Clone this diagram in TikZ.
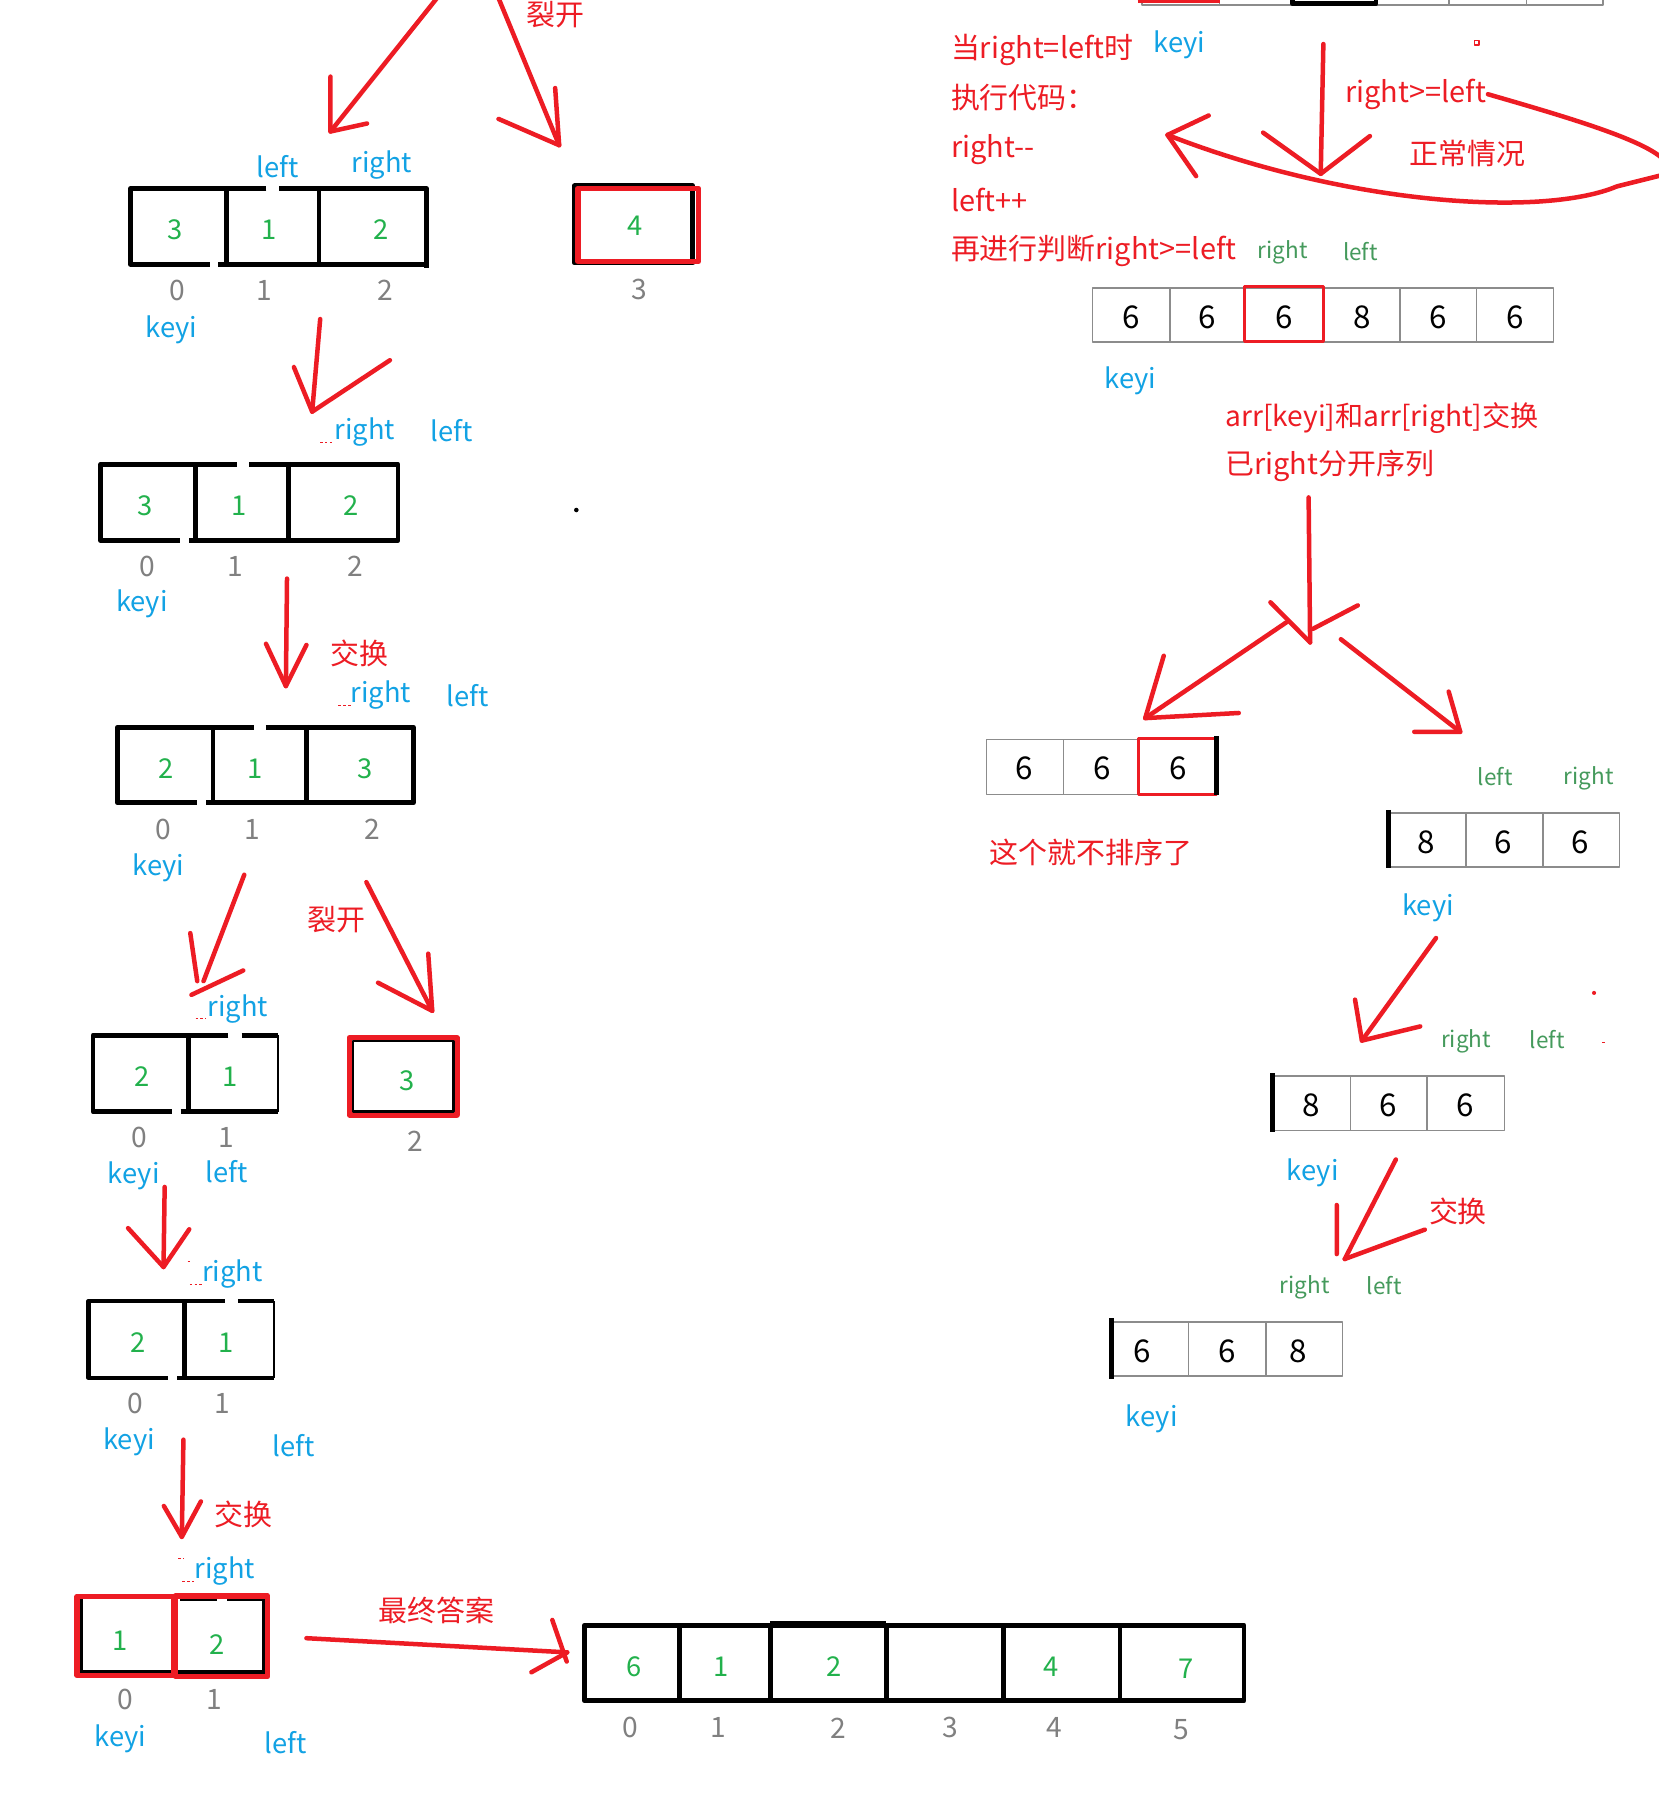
\documentclass[tikz,border=0pt]{standalone}
\usepackage{fontspec}
\setmainfont{Noto Sans CJK SC}[Ligatures=TeXOff]
\definecolor{penred}{HTML}{ED1C24}
\definecolor{ptrblue}{HTML}{12A2E4}
\definecolor{valgreen}{HTML}{22B14C}
\definecolor{idxgray}{HTML}{808080}
\definecolor{taggreen}{HTML}{459A5C}
\definecolor{cellgray}{HTML}{8C8C8C}

\begin{document}
\begin{tikzpicture}[x=.025cm,y=-.025cm,line join=round,inner sep=1pt,
  pen/.style={draw=penred,line width=2.8pt,line cap=round},
  ink/.style={draw=black,line width=3pt},
  inkthin/.style={draw=black,line width=1pt},
  cell/.style={draw=cellgray,line width=.9pt},
  redcell/.style={draw=penred,line width=2pt},
  redbox/.style={draw=penred,line width=3.4pt},
  speck/.style={draw=penred,line width=.6pt,dash pattern=on 1.5pt off 1.5pt},
  val/.style={text=valgreen,font=\fontsize{17}{20}\selectfont},
  idx/.style={text=idxgray,font=\fontsize{17.5}{20}\selectfont},
  ptr/.style={text=ptrblue,font=\fontsize{17}{20}\selectfont},
  num/.style={font=\fontsize{19.5}{22}\selectfont},
  note/.style={text=penred,font=\fontsize{18}{22}\selectfont},
  tag/.style={text=taggreen,font=\fontsize{14}{17}\selectfont}]

\useasboundingbox (0,0) rectangle (1450,1568);
\fill[white] (0,0) rectangle (1450,1568);

% ================= left column =================
% split coming from above
\node[note] (split1) at (485.5,13) {裂开};
\coordinate (a1s) at (384,-4); \coordinate (a1t) at (289,115);
\draw[pen] (a1s) -- (a1t); \draw[pen] (289,67) -- (a1t) -- (321,108);
\coordinate (a2s) at (435,-4); \coordinate (a2t) at (489,127);
\draw[pen] (a2s) -- (a2t); \draw[pen] (485.5,77) -- (a2t) -- (436,104);

% array 3 1 2
\draw[ink] (233,165) -- (114,165) -- (114,231) -- (184,231);
\draw[ink] (244,165) -- (373,165) -- (373,234);
\draw[ink] (191,231) -- (373,231);
\draw[ink] (198,165) -- (198,231) (279,163) -- (279,231);
\foreach \v/\x [count=\i] in {3/153,1/235,2/333} \node[val] (p\i) at (\x,201) {\v};
\foreach \v/\x [count=\i] in {0/155,1/231,2/337} \node[idx] (pi\i) at (\x,254) {\v};
\node[ptr] (pl) at (243,146) {left};
\node[ptr] (pr) at (334,144) {right};
\node[ptr] (pk) at (150,288) {keyi};

% single 4
\draw[ink] (502.5,162.5) rectangle (605.7,230);
\draw[redbox] (505.3,164.7) rectangle (610.8,228.5);
\node[val] (four) at (555,197) {4};
\node[idx] (fouri) at (559,253) {3};

\coordinate (a3s) at (280,279); \coordinate (a3t) at (273,360);
\draw[pen] (a3s) -- (a3t); \draw[pen] (257,321) -- (a3t) -- (341,315);

% array 3 1 2, pointers moved
\draw[speck] (280,387) -- (291,387);
\node[ptr] (qr) at (319,378) {right};
\node[ptr] (ql) at (395,377) {left};
\draw[ink] (207,406) -- (88,406) -- (88,472.6) -- (157,472.6);
\draw[ink] (218,406) -- (348,406) -- (348,472.6) -- (165,472.6);
\draw[ink] (171,406) -- (171,472.6) (252,404) -- (252,472.6);
\foreach \v/\x [count=\i] in {3/127,1/209,2/307} \node[val] (q\i) at (\x,442) {\v};
\foreach \v/\x [count=\i] in {0/128.5,1/206,2/311} \node[idx] (qi\i) at (\x,495) {\v};
\node[ptr] (qk) at (124,528) {keyi};
\fill (504,446) circle (2);

\coordinate (a4s) at (251,506); \coordinate (a4t) at (250,600);
\draw[pen] (a4s) -- (a4t); \draw[pen] (232.6,563) -- (a4t) -- (268,564);
\node[note] (swap1) at (314,571.5) {交换};

% array 2 1 3
\draw[speck] (296,617) -- (307,617);
\node[ptr] (rr) at (333,608) {right};
\node[ptr] (rl) at (409,608) {left};
\draw[ink] (222,636) -- (102.6,636) -- (102.6,702) -- (172.5,702);
\draw[ink] (232.6,636) -- (361.6,636) -- (361.6,702) -- (180,702);
\draw[ink] (186.3,636) -- (186.3,702) (268.2,634) -- (268.2,702);
\foreach \v/\x [count=\i] in {2/145.6,1/223,3/319} \node[val] (r\i) at (\x,672) {\v};
\foreach \v/\x [count=\i] in {0/143,1/221,2/326} \node[idx] (ri\i) at (\x,725) {\v};
\node[ptr] (rk) at (138.7,759) {keyi};

% split again
\node[note] (split2) at (294.5,804) {裂开};
\coordinate (a5s) at (213.6,765); \coordinate (a5t) at (178,858);
\draw[pen] (a5s) -- (a5t); \draw[pen] (166.4,816) -- (172.5,858);
\draw[pen] (167.4,870) -- (212.7,848.7);
\coordinate (a6s) at (320.4,771.4); \coordinate (a6t) at (378,884);
\draw[pen] (a6s) -- (a6t); \draw[pen] (374.5,834) -- (a6t) -- (330.6,859.4);

% array 2 1
\draw[speck] (171,890.5) -- (180,890.5);
\node[ptr] (sr) at (208,882) {right};
\draw[ink] (199.7,905.2) -- (81.4,905.2) -- (81.4,972.1) -- (150.3,972.1);
\draw[ink] (211.3,905.2) -- (243.2,905.2) (158,972.1) -- (243.2,972.1);
\draw[ink] (164.6,905.2) -- (164.6,972.1);
\draw[inkthin] (243.2,905.2) -- (243.2,972.1);
\foreach \v/\x [count=\i] in {2/124,1/201.6} \node[val] (s\i) at (\x,941.4) {\v};
\foreach \v/\x [count=\i] in {0/121.6,1/198} \node[idx] (si\i) at (\x,995) {\v};
\node[ptr] (sk) at (117,1028) {keyi};
\node[ptr] (sl) at (198,1025) {left};

% single 3
\draw[redbox] (305.5,907.5) rectangle (399.5,975);
\draw[draw=black,line width=1.4pt] (308.5,910.5) rectangle (396.5,972);
\node[val] (three) at (356,944.7) {3};
\node[idx] (threei) at (363,998) {2};

\coordinate (a7s) at (144,1038); \coordinate (a7t) at (143,1108);
\draw[pen] (a7s) -- (a7t); \draw[pen] (112,1074) -- (a7t) -- (165.5,1075);

% array 2 1, right moved
\draw[speck] (164,1103) -- (168,1103) (166,1123) -- (178,1123);
\node[ptr] (tr) at (203.4,1114) {right};
\draw[ink] (196.5,1137.8) -- (77.7,1137.8) -- (77.7,1205) -- (147,1205);
\draw[ink] (208,1137.8) -- (239.5,1137.8) (155,1205) -- (239.5,1205);
\draw[ink] (161.4,1137.8) -- (161.4,1205);
\draw[inkthin] (239.5,1137.8) -- (239.5,1205);
\foreach \v/\x [count=\i] in {2/121,1/198} \node[val] (t\i) at (\x,1174.5) {\v};
\foreach \v/\x [count=\i] in {0/118,1/194} \node[idx] (ti\i) at (\x,1227.5) {\v};
\node[ptr] (tk) at (113,1261) {keyi};
\node[ptr] (tl) at (256.6,1264.5) {left};

\coordinate (a8s) at (160.4,1259); \coordinate (a8t) at (159,1344);
\draw[pen] (a8s) -- (a8t); \draw[pen] (143.3,1317) -- (a8t) -- (175.7,1313);
\node[note] (swap2) at (212.7,1324) {交换};

% array 1 2
\draw[speck] (156,1363) -- (161,1363) (159.5,1383) -- (171,1383);
\node[ptr] (ur) at (196.5,1374) {right};
\draw[draw=black,line width=2.5pt] (71,1397) -- (71,1462.5) -- (231,1462.5) -- (231,1398.5) -- (198.8,1398.5)
  (189.6,1398.5) -- (157,1398.5);
\draw[redbox] (67.5,1396) rectangle (152,1465);
\draw[redbox] (153.7,1395.5) rectangle (234,1466.3);
\node[val] (u1) at (105.4,1435) {1};
\node[val] (u2) at (189.6,1438) {2};
\foreach \v/\x [count=\i] in {0/110,1/187} \node[idx] (ui\i) at (\x,1486) {\v};
\node[ptr] (uk) at (105.4,1521) {keyi};
\node[ptr] (ul) at (249.7,1524) {left};

% final answer
\node[note] (final) at (381.4,1408.4) {最终答案};
\coordinate (a9s) at (268,1432.6); \coordinate (a9t) at (496,1445);
\draw[pen] (a9s) -- (a9t); \draw[pen] (483,1416.7) -- (495.6,1453) (464.7,1462.4) -- (a9t);
\draw[ink] (511,1421.2) rectangle (1087.9,1487.4);
\draw[ink] (673.8,1419.8) -- (775,1419.8);
\foreach \x in {594.4,673.8,775,877.7,979.5} \draw[ink] (\x,1421.2) -- (\x,1487.4);
\foreach \v/\x [count=\i] in {6/554.2,1/630.5,2/729.6,4/919.2} \node[val] (w\i) at (\x,1457.6) {\v};
\node[val] (w5) at (1037.4,1459) {7};
\foreach \v/\x [count=\i] in {0/551,1/627.9,2/732.7,3/830.9,4/922.3} \node[idx] (wi\i) at (\x,1511) {\v};
\node[idx] (wi6) at (1033,1513) {5};

% ================= right column =================
% array cut at the top edge
\draw[cell] (998.8,-20) rectangle (1401.8,4.4);
\foreach \x in {1066.3,1267,1334.9} \draw[cell] (\x,-20) -- (\x,4.4);
\draw[draw=penred,line width=2.2pt] (994.8,1.5) -- (1066.8,1.5);
\draw[ink] (1130,-10) -- (1130,3.2) -- (1203.3,3.2) -- (1203.3,-10);
\draw[draw=penred,line width=.8pt] (1289.5,35.6) rectangle (1293.3,39.4);

\node[note,anchor=west] (n1) at (830,43.5) {当right=left时};
\node[ptr] (k0) at (1031.5,39.5) {keyi};
\node[note,anchor=west] (n2) at (830,85.3) {执行代码：};
\node[note,anchor=west] (n3) at (830,130.5) {right--};
\node[note,anchor=west] (n4) at (830,174.7) {left++};
\node[note,anchor=west] (n5) at (830,219.2) {再进行判断right>=left};
\node[tag] (g1r) at (1121.7,221) {right};
\node[tag] (g1l) at (1189.7,220) {left};

% normal case loop
\node[note] (ge) at (1238,82.4) {right>=left};
\node[note] (normal) at (1283,134) {正常情况};
\coordinate (b1s) at (1157.3,38.5); \coordinate (b1t) at (1155,152);
\draw[pen] (b1s) -- (b1t); \draw[pen] (1104.6,116) -- (b1t) -- (1198,119);
\coordinate (b2t) at (1021,118);
\draw[pen] (ge.east) .. controls (1390,108) and (1470,132) .. (1458,152) -- (1414,163)
  .. controls (1350,190) and (1180,180) .. (b2t);
\draw[pen] (1057,101) -- (b2t) -- (1046,154);

% array 6 6 6 8 6 6
\draw[cell] (955.3,251.7) rectangle (1358.4,298.9);
\foreach \x in {1023.2,1224.3,1291.4} \draw[cell] (\x,251.7) -- (\x,298.9);
\draw[redcell] (1088,250.5) rectangle (1157.3,298.5);
\foreach \v/\x [count=\i] in {6/989,6/1056,6/1123,8/1191,6/1258,6/1325} \node[num] (m\i) at (\x,277.5) {\v};
\node[ptr] (mk) at (988.5,333) {keyi};
\node[note,anchor=west,font=\fontsize{17.5}{21}\selectfont] (n6) at (1070,365.5) {arr[keyi]和arr[right]交换};
\node[note,anchor=west] (n7) at (1070,407.6) {已right分开序列};

% fork
\coordinate (b3s) at (1144.4,435); \coordinate (b3t) at (1145.7,561.8);
\draw[pen] (b3s) -- (b3t); \draw[pen] (1111,526.7) -- (b3t) (1187.4,529.4) -- (1148,550);
\coordinate (b4s) at (1125,544.2); \coordinate (b4t) at (1001.5,628);
\draw[pen] (b4s) -- (b4t); \draw[pen] (1017.7,573.5) -- (b4t) -- (1083.3,623.5);
\coordinate (b5s) at (1172.6,559); \coordinate (b5t) at (1277,640);
\draw[pen] (b5s) -- (b5t); \draw[pen] (1266.9,604.8) -- (b5t) -- (1236.8,640);

% array 6 6 6 (left part)
\draw[cell] (862.8,646.9) rectangle (1063.9,694.6);
\draw[cell] (929.8,646.9) -- (929.8,694.6);
\draw[redcell] (995.5,645.7) rectangle (1063.9,694.6);
\draw[ink] (1063.9,644) -- (1063.9,695.5);
\foreach \v/\x [count=\i] in {6/896,6/964,6/1030} \node[num] (h\i) at (\x,672.3) {\v};
\node[note] (nosort) at (953.9,745.3) {这个就不排序了};

% array 8 6 6 (right part)
\node[tag] (g2l) at (1307.6,679) {left};
\node[tag] (g2r) at (1389.4,681) {right};
\draw[cell] (1214.2,711) rectangle (1416.2,758.2);
\foreach \x in {1282.2,1349.2} \draw[cell] (\x,711) -- (\x,758.2);
\draw[ink] (1214.2,708.2) -- (1214.2,759);
\foreach \v/\x [count=\i] in {8/1247.5,6/1314.5,6/1381.6} \node[num] (j\i) at (\x,736.7) {\v};
\node[ptr] (jk) at (1248.8,794) {keyi};

\coordinate (b6s) at (1255.8,820.3); \coordinate (b6t) at (1191,910);
\draw[pen] (b6s) -- (b6t); \draw[pen] (1185,874.2) -- (b6t) -- (1242,897.6);
\fill[penred] (1394,868.3) circle (1.8);
\draw[draw=penred,line width=.6pt] (1401,911.3) -- (1404,911.3);

% array 8 6 6, pointers crossed
\node[tag] (g3r) at (1282,911) {right};
\node[tag] (g3l) at (1353,909) {left};
\draw[cell] (1112.5,941) rectangle (1315.9,988.6);
\foreach \x in {1180.9,1248} \draw[cell] (\x,941) -- (\x,988.6);
\draw[ink] (1112.5,938.6) -- (1112.5,990);
\foreach \v/\x [count=\i] in {8/1147,6/1214,6/1281.7} \node[num] (k\i) at (\x,967) {\v};
\node[ptr] (kk) at (1148,1025.7) {keyi};

\coordinate (b7s) at (1220.7,1014); \coordinate (b7t) at (1176,1101);
\draw[pen] (b7s) -- (b7t); \draw[pen] (1169,1053.8) -- (1169,1096.7) (1246,1075.3) -- (b7t);
\node[note] (swap3) at (1275,1059.6) {交换};

% array 6 6 8
\node[tag] (g4r) at (1141,1126) {right};
\node[tag] (g4l) at (1210.5,1124) {left};
\draw[cell] (971.7,1156) rectangle (1174,1203.4);
\foreach \x in {1039.3,1107} \draw[cell] (\x,1156) -- (\x,1203.4);
\draw[ink] (971.7,1153) -- (971.7,1206);
\foreach \v/\x [count=\i] in {6/998.5,6/1072.8,8/1135.4} \node[num] (e\i) at (\x,1182) {\v};
\node[ptr] (ek) at (1007.2,1240.4) {keyi};

\end{tikzpicture}
\end{document}
